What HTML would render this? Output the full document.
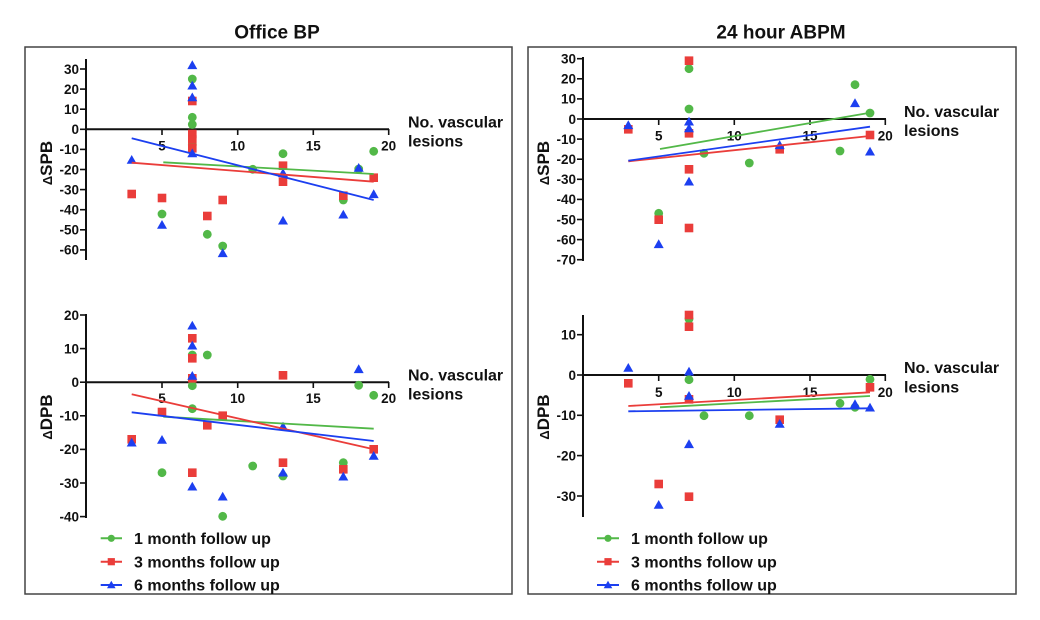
<!DOCTYPE html>
<html><head><meta charset="utf-8"><style>
html,body{margin:0;padding:0;background:#fff;}
svg{display:block;}
text{font-family:"Liberation Sans",Arial,sans-serif;font-weight:bold;fill:#111;}
.t{font-size:13.5px;}
.ax{stroke:#111;stroke-width:2;fill:none;}
.tk{stroke:#111;stroke-width:1.6;}
</style></head><body>
<svg width="1040" height="620" viewBox="0 0 1040 620" xmlns="http://www.w3.org/2000/svg">
<defs>
<circle id="g" r="4.4" fill="#52b848"/>
<rect id="r" x="-4.3" y="-4.3" width="8.6" height="8.6" fill="#ea3d3a"/>
<polygon id="b" points="0,-5 5,3.8 -5,3.8" fill="#1c3ff0"/>
<circle id="gs" r="3.6" fill="#52b848"/>
<rect id="rs" x="-3.6" y="-3.6" width="7.2" height="7.2" fill="#ea3d3a"/>
<polygon id="bs" points="0,-4.3 4.3,3.2 -4.3,3.2" fill="#1c3ff0"/>
</defs>

<!-- panel boxes -->
<rect x="25" y="47" width="487" height="547" fill="none" stroke="#444" stroke-width="1.5"/>
<rect x="528" y="47" width="488" height="547" fill="none" stroke="#444" stroke-width="1.5"/>

<text x="277" y="38.5" text-anchor="middle" font-size="19">Office BP</text>
<text x="781" y="38.5" text-anchor="middle" font-size="19">24 hour ABPM</text>

<!-- ============ TOP LEFT ============ -->
<line class="ax" x1="86" y1="59" x2="86" y2="260"/>
<line class="ax" x1="86" y1="129.3" x2="389" y2="129.3"/>
<g class="tk">
<line x1="80" y1="69" x2="86" y2="69"/><line x1="80" y1="89.1" x2="86" y2="89.1"/><line x1="80" y1="109.2" x2="86" y2="109.2"/><line x1="80" y1="129.3" x2="86" y2="129.3"/><line x1="80" y1="149.4" x2="86" y2="149.4"/><line x1="80" y1="169.5" x2="86" y2="169.5"/><line x1="80" y1="189.6" x2="86" y2="189.6"/><line x1="80" y1="209.7" x2="86" y2="209.7"/><line x1="80" y1="229.8" x2="86" y2="229.8"/><line x1="80" y1="249.9" x2="86" y2="249.9"/>
<line x1="162" y1="129" x2="162" y2="135"/><line x1="237.7" y1="129" x2="237.7" y2="135"/><line x1="313.3" y1="129" x2="313.3" y2="135"/><line x1="388.7" y1="129" x2="388.7" y2="135"/>
</g>
<g class="t" text-anchor="end">
<text x="79" y="73.8">30</text><text x="79" y="93.9">20</text><text x="79" y="114">10</text><text x="79" y="134.1">0</text><text x="79" y="154.2">-10</text><text x="79" y="174.3">-20</text><text x="79" y="194.4">-30</text><text x="79" y="214.5">-40</text><text x="79" y="234.6">-50</text><text x="79" y="254.7">-60</text>
</g>
<g class="t" text-anchor="middle">
<text x="162" y="150.7">5</text><text x="237.7" y="150.7">10</text><text x="313.3" y="150.7">15</text><text x="388.7" y="150.7">20</text>
</g>
<text x="408" y="127.5" font-size="16">No. vascular</text>
<text x="408" y="146.5" font-size="16">lesions</text>
<text transform="translate(52,163) rotate(-90)" text-anchor="middle"><tspan font-size="13">Δ</tspan><tspan font-size="17">SPB</tspan></text>

<g>
<use href="#g" x="192.3" y="79"/><use href="#g" x="192.3" y="117.3"/><use href="#g" x="192.3" y="124.5"/><use href="#g" x="192.3" y="145"/><use href="#g" x="162" y="214"/><use href="#g" x="207.3" y="234.3"/><use href="#g" x="222.7" y="246"/><use href="#g" x="252.7" y="169.3"/><use href="#g" x="283" y="153.7"/><use href="#g" x="343.3" y="200"/><use href="#g" x="358.7" y="169"/><use href="#g" x="373.7" y="151.3"/>
<use href="#r" x="192.3" y="101"/><use href="#r" x="192.3" y="134"/><use href="#r" x="192.3" y="139.5"/><use href="#r" x="192.3" y="148.3"/><use href="#r" x="131.7" y="194"/><use href="#r" x="162" y="198"/><use href="#r" x="207.3" y="216"/><use href="#r" x="222.7" y="200"/><use href="#r" x="283" y="165.7"/><use href="#r" x="283" y="181.7"/><use href="#r" x="343.3" y="195.7"/><use href="#r" x="373.7" y="177.7"/>
<use href="#b" x="192.3" y="65.3"/><use href="#b" x="192.3" y="85.7"/><use href="#b" x="192.3" y="97.5"/><use href="#b" x="192.3" y="153.5"/><use href="#b" x="131.7" y="160"/><use href="#b" x="162" y="225"/><use href="#b" x="222.7" y="253.3"/><use href="#b" x="283" y="173.3"/><use href="#b" x="283" y="220.7"/><use href="#b" x="343.3" y="214.7"/><use href="#b" x="358.7" y="168"/><use href="#b" x="373.7" y="194.3"/>
</g>
<line x1="163.3" y1="162.3" x2="373.7" y2="174" stroke="#52b848" stroke-width="1.8"/>
<line x1="131.7" y1="162.7" x2="373.7" y2="181.7" stroke="#ea3d3a" stroke-width="1.8"/>
<line x1="131.7" y1="138.3" x2="373.7" y2="200" stroke="#1c3ff0" stroke-width="1.8"/>

<!-- ============ BOTTOM LEFT ============ -->
<line class="ax" x1="86" y1="314" x2="86" y2="518"/>
<line class="ax" x1="86" y1="382.2" x2="389" y2="382.2"/>
<g class="tk">
<line x1="80" y1="315" x2="86" y2="315"/><line x1="80" y1="348.6" x2="86" y2="348.6"/><line x1="80" y1="382.2" x2="86" y2="382.2"/><line x1="80" y1="415.8" x2="86" y2="415.8"/><line x1="80" y1="449.4" x2="86" y2="449.4"/><line x1="80" y1="483" x2="86" y2="483"/><line x1="80" y1="516.6" x2="86" y2="516.6"/>
<line x1="162" y1="382" x2="162" y2="388"/><line x1="237.7" y1="382" x2="237.7" y2="388"/><line x1="313.3" y1="382" x2="313.3" y2="388"/><line x1="388.7" y1="382" x2="388.7" y2="388"/>
</g>
<g class="t" text-anchor="end">
<text x="79" y="319.8">20</text><text x="79" y="353.4">10</text><text x="79" y="387">0</text><text x="79" y="420.6">-10</text><text x="79" y="454.2">-20</text><text x="79" y="487.8">-30</text><text x="79" y="521.4">-40</text>
</g>
<g class="t" text-anchor="middle">
<text x="162" y="403">5</text><text x="237.7" y="403">10</text><text x="313.3" y="403">15</text><text x="388.7" y="403">20</text>
</g>
<text x="408" y="380.5" font-size="16">No. vascular</text>
<text x="408" y="399.5" font-size="16">lesions</text>
<text transform="translate(52,417) rotate(-90)" text-anchor="middle"><tspan font-size="13">Δ</tspan><tspan font-size="17">DPB</tspan></text>

<g>
<use href="#g" x="192.3" y="355"/><use href="#g" x="192.3" y="385.7"/><use href="#g" x="192.3" y="408.7"/><use href="#g" x="207.3" y="355"/><use href="#g" x="162" y="472.7"/><use href="#g" x="222.7" y="516.3"/><use href="#g" x="252.7" y="466"/><use href="#g" x="283" y="476"/><use href="#g" x="343.3" y="462.7"/><use href="#g" x="358.7" y="385.3"/><use href="#g" x="373.7" y="395.3"/>
<use href="#r" x="192.3" y="338.3"/><use href="#r" x="192.3" y="358.3"/><use href="#r" x="192.3" y="378.3"/><use href="#r" x="131.7" y="439.3"/><use href="#r" x="162" y="412"/><use href="#r" x="192.3" y="472.7"/><use href="#r" x="207.3" y="425.3"/><use href="#r" x="222.7" y="415.7"/><use href="#r" x="283" y="375.3"/><use href="#r" x="283" y="462.7"/><use href="#r" x="343.3" y="469.3"/><use href="#r" x="373.7" y="449.3"/>
<use href="#b" x="192.3" y="325.7"/><use href="#b" x="192.3" y="345.7"/><use href="#b" x="192.3" y="376"/><use href="#b" x="131.7" y="442.7"/><use href="#b" x="162" y="440"/><use href="#b" x="192.3" y="486.7"/><use href="#b" x="222.7" y="496.7"/><use href="#b" x="283" y="426.7"/><use href="#b" x="283" y="472.7"/><use href="#b" x="343.3" y="476.7"/><use href="#b" x="358.7" y="369.3"/><use href="#b" x="373.7" y="456"/>
</g>
<line x1="163.3" y1="416.7" x2="373.7" y2="428.7" stroke="#52b848" stroke-width="1.8"/>
<line x1="131.7" y1="394.3" x2="373.7" y2="449.3" stroke="#ea3d3a" stroke-width="1.8"/>
<line x1="131.7" y1="412.3" x2="373.7" y2="441" stroke="#1c3ff0" stroke-width="1.8"/>

<!-- legend left -->
<line x1="100.7" y1="538.3" x2="122" y2="538.3" stroke="#52b848" stroke-width="2"/><use href="#gs" x="111.3" y="538.3"/>
<line x1="100.7" y1="561.7" x2="122" y2="561.7" stroke="#ea3d3a" stroke-width="2"/><use href="#rs" x="111.3" y="561.7"/>
<line x1="100.7" y1="585" x2="122" y2="585" stroke="#1c3ff0" stroke-width="2"/><use href="#bs" x="111.3" y="585"/>
<text x="134" y="544" font-size="16">1 month follow up</text>
<text x="134" y="567.4" font-size="16">3 months follow up</text>
<text x="134" y="590.7" font-size="16">6 months follow up</text>

<!-- ============ TOP RIGHT ============ -->
<line class="ax" x1="583" y1="57" x2="583" y2="261"/>
<line class="ax" x1="583" y1="119" x2="886" y2="119"/>
<g class="tk">
<line x1="577" y1="58.7" x2="583" y2="58.7"/><line x1="577" y1="78.8" x2="583" y2="78.8"/><line x1="577" y1="98.9" x2="583" y2="98.9"/><line x1="577" y1="119" x2="583" y2="119"/><line x1="577" y1="139.1" x2="583" y2="139.1"/><line x1="577" y1="159.2" x2="583" y2="159.2"/><line x1="577" y1="179.3" x2="583" y2="179.3"/><line x1="577" y1="199.4" x2="583" y2="199.4"/><line x1="577" y1="219.5" x2="583" y2="219.5"/><line x1="577" y1="239.6" x2="583" y2="239.6"/><line x1="577" y1="259.7" x2="583" y2="259.7"/>
<line x1="658.7" y1="119" x2="658.7" y2="125"/><line x1="734.3" y1="119" x2="734.3" y2="125"/><line x1="810" y1="119" x2="810" y2="125"/><line x1="885.3" y1="119" x2="885.3" y2="125"/>
</g>
<g class="t" text-anchor="end">
<text x="576" y="63.5">30</text><text x="576" y="83.6">20</text><text x="576" y="103.7">10</text><text x="576" y="123.8">0</text><text x="576" y="143.9">-10</text><text x="576" y="164">-20</text><text x="576" y="184.1">-30</text><text x="576" y="204.2">-40</text><text x="576" y="224.3">-50</text><text x="576" y="244.4">-60</text><text x="576" y="264.5">-70</text>
</g>
<g class="t" text-anchor="middle">
<text x="658.7" y="140.4">5</text><text x="734.3" y="140.4">10</text><text x="810" y="140.4">15</text><text x="885.3" y="140.4">20</text>
</g>
<text x="904" y="117" font-size="16">No. vascular</text>
<text x="904" y="136" font-size="16">lesions</text>
<text transform="translate(549,163) rotate(-90)" text-anchor="middle"><tspan font-size="13">Δ</tspan><tspan font-size="17">SPB</tspan></text>

<g>
<use href="#g" x="689" y="68.7"/><use href="#g" x="689" y="109"/><use href="#g" x="704" y="153.3"/><use href="#g" x="658.7" y="213.3"/><use href="#g" x="749.3" y="163"/><use href="#g" x="840" y="151"/><use href="#g" x="855" y="84.7"/><use href="#g" x="870" y="113"/>
<use href="#r" x="689" y="60.7"/><use href="#r" x="689" y="133.3"/><use href="#r" x="689" y="169.3"/><use href="#r" x="689" y="228"/><use href="#r" x="628.3" y="129.3"/><use href="#r" x="658.7" y="219.7"/><use href="#r" x="779.7" y="149.3"/><use href="#r" x="870" y="135"/>
<use href="#b" x="628.3" y="125.3"/><use href="#b" x="689" y="121.7"/><use href="#b" x="689" y="128.5"/><use href="#b" x="689" y="181.7"/><use href="#b" x="658.7" y="244.3"/><use href="#b" x="779.7" y="145.3"/><use href="#b" x="855" y="103.3"/><use href="#b" x="870" y="151.7"/>
</g>
<line x1="660" y1="149" x2="870" y2="112.7" stroke="#52b848" stroke-width="1.8"/>
<line x1="628.3" y1="161.3" x2="870" y2="136" stroke="#ea3d3a" stroke-width="1.8"/>
<line x1="628.3" y1="160.7" x2="870" y2="126.7" stroke="#1c3ff0" stroke-width="1.8"/>

<!-- ============ BOTTOM RIGHT ============ -->
<line class="ax" x1="583" y1="315" x2="583" y2="517"/>
<line class="ax" x1="583" y1="375" x2="886" y2="375"/>
<g class="tk">
<line x1="577" y1="334.7" x2="583" y2="334.7"/><line x1="577" y1="375" x2="583" y2="375"/><line x1="577" y1="415.3" x2="583" y2="415.3"/><line x1="577" y1="455.6" x2="583" y2="455.6"/><line x1="577" y1="496" x2="583" y2="496"/>
<line x1="658.7" y1="375" x2="658.7" y2="381"/><line x1="734.3" y1="375" x2="734.3" y2="381"/><line x1="810" y1="375" x2="810" y2="381"/><line x1="885.3" y1="375" x2="885.3" y2="381"/>
</g>
<g class="t" text-anchor="end">
<text x="576" y="339.5">10</text><text x="576" y="379.8">0</text><text x="576" y="420.1">-10</text><text x="576" y="460.4">-20</text><text x="576" y="500.8">-30</text>
</g>
<g class="t" text-anchor="middle">
<text x="658.7" y="397">5</text><text x="734.3" y="397">10</text><text x="810" y="397">15</text><text x="885.3" y="397">20</text>
</g>
<text x="904" y="373" font-size="16">No. vascular</text>
<text x="904" y="392.5" font-size="16">lesions</text>
<text transform="translate(549,417) rotate(-90)" text-anchor="middle"><tspan font-size="13">Δ</tspan><tspan font-size="17">DPB</tspan></text>

<g>
<use href="#g" x="689" y="319"/><use href="#g" x="689" y="379.7"/><use href="#g" x="704" y="415.7"/><use href="#g" x="749.3" y="415.7"/><use href="#g" x="840" y="403.3"/><use href="#g" x="855" y="407.3"/><use href="#g" x="870" y="379.3"/>
<use href="#r" x="689" y="315"/><use href="#r" x="689" y="326.7"/><use href="#r" x="689" y="399.3"/><use href="#r" x="689" y="496.7"/><use href="#r" x="628.3" y="383.3"/><use href="#r" x="658.7" y="484"/><use href="#r" x="779.7" y="419.7"/><use href="#r" x="870" y="387.3"/>
<use href="#b" x="628.3" y="368"/><use href="#b" x="689" y="371.7"/><use href="#b" x="689" y="396"/><use href="#b" x="689" y="444.3"/><use href="#b" x="658.7" y="505"/><use href="#b" x="779.7" y="424"/><use href="#b" x="855" y="404.3"/><use href="#b" x="870" y="407.7"/>
</g>
<line x1="660" y1="407.3" x2="870" y2="396" stroke="#52b848" stroke-width="1.8"/>
<line x1="628.3" y1="406" x2="870" y2="392.3" stroke="#ea3d3a" stroke-width="1.8"/>
<line x1="628.3" y1="411.3" x2="870" y2="408.3" stroke="#1c3ff0" stroke-width="1.8"/>

<!-- legend right -->
<line x1="597" y1="538.3" x2="619" y2="538.3" stroke="#52b848" stroke-width="2"/><use href="#gs" x="608" y="538.3"/>
<line x1="597" y1="561.7" x2="619" y2="561.7" stroke="#ea3d3a" stroke-width="2"/><use href="#rs" x="608" y="561.7"/>
<line x1="597" y1="585" x2="619" y2="585" stroke="#1c3ff0" stroke-width="2"/><use href="#bs" x="608" y="585"/>
<text x="631" y="544" font-size="16">1 month follow up</text>
<text x="631" y="567.4" font-size="16">3 months follow up</text>
<text x="631" y="590.7" font-size="16">6 months follow up</text>
</svg>
</body></html>
